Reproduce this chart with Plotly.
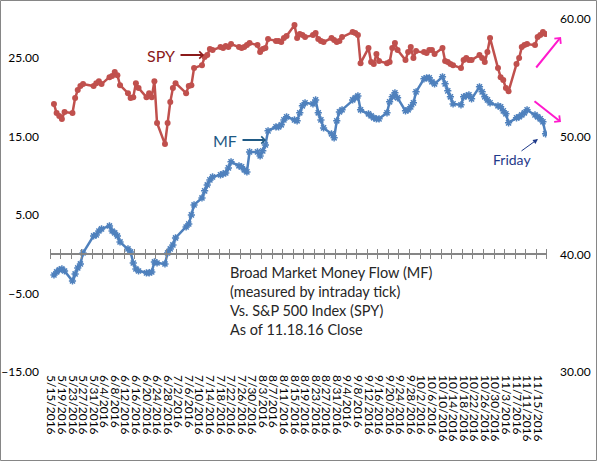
import plotly.graph_objects as go

# trading days shown on the chart
dates = [
    "2016-05-16", "2016-05-17", "2016-05-18", "2016-05-19", "2016-05-20",
    "2016-05-23", "2016-05-24", "2016-05-25", "2016-05-26", "2016-05-27",
    "2016-05-31", "2016-06-01", "2016-06-02", "2016-06-03",
    "2016-06-06", "2016-06-07", "2016-06-08", "2016-06-09", "2016-06-10",
    "2016-06-13", "2016-06-14", "2016-06-15", "2016-06-16", "2016-06-17",
    "2016-06-20", "2016-06-21", "2016-06-22", "2016-06-23", "2016-06-24",
    "2016-06-27", "2016-06-28", "2016-06-29", "2016-06-30", "2016-07-01",
    "2016-07-05", "2016-07-06", "2016-07-07", "2016-07-08",
    "2016-07-11", "2016-07-12", "2016-07-13", "2016-07-14", "2016-07-15",
    "2016-07-18", "2016-07-19", "2016-07-20", "2016-07-21", "2016-07-22",
    "2016-07-25", "2016-07-26", "2016-07-27", "2016-07-28", "2016-07-29",
    "2016-08-01", "2016-08-02", "2016-08-03", "2016-08-04", "2016-08-05",
    "2016-08-08", "2016-08-09", "2016-08-10", "2016-08-11", "2016-08-12",
    "2016-08-15", "2016-08-16", "2016-08-17", "2016-08-18", "2016-08-19",
    "2016-08-22", "2016-08-23", "2016-08-24", "2016-08-25", "2016-08-26",
    "2016-08-29", "2016-08-30", "2016-08-31", "2016-09-01", "2016-09-02",
    "2016-09-06", "2016-09-07", "2016-09-08", "2016-09-09",
    "2016-09-12", "2016-09-13", "2016-09-14", "2016-09-15", "2016-09-16",
    "2016-09-19", "2016-09-20", "2016-09-21", "2016-09-22", "2016-09-23",
    "2016-09-26", "2016-09-27", "2016-09-28", "2016-09-29", "2016-09-30",
    "2016-10-03", "2016-10-04", "2016-10-05", "2016-10-06", "2016-10-07",
    "2016-10-10", "2016-10-11", "2016-10-12", "2016-10-13", "2016-10-14",
    "2016-10-17", "2016-10-18", "2016-10-19", "2016-10-20", "2016-10-21",
    "2016-10-24", "2016-10-25", "2016-10-26", "2016-10-27", "2016-10-28",
    "2016-10-31", "2016-11-01", "2016-11-02", "2016-11-03", "2016-11-04",
    "2016-11-07", "2016-11-08", "2016-11-09", "2016-11-10", "2016-11-11",
    "2016-11-14", "2016-11-15", "2016-11-16", "2016-11-17", "2016-11-18",
]

# broad market money flow (left axis)
mf = [
    -2.63, -2.24, -1.99, -1.86, -2.12,
    -3.39, -2.50, -1.73, -1.22, 0.18,
    2.35, 2.47, 2.98, 3.24,
    3.62, 2.98, 2.73, 2.35, 1.58,
    0.69, 0.31, -1.10, -1.86, -2.12,
    -2.37, -2.37, -2.24, -0.97, -1.10,
    -1.22, 0.18, 0.69, 1.20, 2.09,
    3.49, 3.88, 5.03, 6.30,
    7.19, 8.09, 8.85, 9.49, 9.87,
    10.13, 10.26, 10.38, 11.02, 11.79,
    11.28, 11.15, 10.77, 10.51, 13.06,
    13.06, 12.55, 13.19, 13.95, 15.74,
    16.25, 16.25, 16.51, 17.14, 17.53,
    17.14, 17.02, 18.04, 18.93, 19.31,
    19.18, 19.69, 18.04, 17.14, 16.12,
    15.36, 14.85, 17.02, 18.16, 18.42,
    19.69, 19.95, 20.20, 18.42,
    17.91, 17.65, 17.40, 17.27, 17.27,
    18.04, 19.44, 20.08, 20.59, 19.95,
    18.29, 18.42, 18.80, 19.31, 20.71,
    22.37, 22.50, 22.50, 21.99, 21.73,
    22.63, 21.73, 20.84, 20.08, 19.18,
    19.06, 20.08, 20.20, 20.33, 19.82,
    21.35, 20.71, 20.08, 19.69, 19.31,
    18.93, 18.80, 18.29, 17.91, 16.76,
    17.40, 17.53, 17.78, 18.04, 18.42,
    17.78, 17.53, 17.27, 16.89, 15.36,
]

# S&P 500 index (right axis)
spy = [
    52.77, 52.01, 51.75, 51.50, 52.09,
    52.01, 53.28, 53.96, 54.30, 54.47,
    54.30, 54.55, 54.72, 54.47,
    55.06, 55.15, 55.49, 55.23, 54.38,
    53.70, 53.28, 53.36, 54.55, 54.13,
    53.36, 53.70, 53.36, 54.72, 51.16,
    49.37, 51.16, 52.94, 54.13, 54.55,
    53.70, 54.30, 54.38, 55.83,
    56.08, 56.76, 56.93, 57.44, 57.36,
    57.61, 57.53, 57.70, 57.61, 57.87,
    57.61, 57.53, 57.61, 57.78, 57.95,
    57.78, 57.19, 57.44, 57.53, 58.29,
    58.12, 58.12, 58.04, 58.38, 58.55,
    59.48, 58.38, 58.72, 58.63, 58.46,
    58.63, 58.80, 58.29, 58.12, 58.04,
    58.38, 58.21, 58.04, 58.12, 58.46,
    58.89, 58.80, 58.63, 56.25,
    57.53, 56.34, 56.17, 57.02, 56.42,
    56.25, 56.34, 57.53, 57.95, 57.36,
    56.51, 57.19, 57.61, 56.68, 57.27,
    57.19, 57.10, 57.36, 57.36, 57.02,
    57.53, 56.42, 56.34, 56.17, 56.08,
    55.83, 56.51, 56.68, 56.51, 56.51,
    56.93, 56.68, 56.34, 57.19, 58.38,
    55.83, 55.06, 54.81, 54.13, 53.87,
    56.17, 56.68, 57.61, 57.78, 57.87,
    57.78, 58.46, 58.63, 58.89, 58.72,
]

left_ticks = [-15, -5, 5, 15, 25]
right_ticks = [30, 40, 50, 60]

W, H = 597, 461
L, R, T, B = 50, 50, 19, 89
FONT = "Lato"


def px(x):
    return (x - L) / (W - L - R)


def py(y):
    return (H - B - y) / (H - T - B)


x_range = ["2016-05-14 12:00", "2016-11-18 13:00"]
DAY = 86400000
zero_pos = 15 / 45  # where 0 sits on the left axis

fig = go.Figure()
fig.add_trace(go.Scatter(
    x=dates, y=mf, mode="lines+markers", name="MF",
    line=dict(color="#4F81BD", width=2.5),
    marker=dict(symbol="asterisk-open", size=6,
                line=dict(color="#4F81BD", width=1.5)),
    xaxis="x", yaxis="y"))
fig.add_trace(go.Scatter(
    x=dates, y=spy, mode="lines+markers", name="SPY",
    line=dict(color="#C0504D", width=2.5),
    marker=dict(symbol="circle", size=6, color="#C0504D"),
    xaxis="x", yaxis="y2"))
# empty trace for the flat subplot that carries the zero-line tick marks
fig.add_trace(go.Scatter(x=[dates[0]], y=[None], xaxis="x2", yaxis="y3",
                         showlegend=False, hoverinfo="skip"))

fig.update_layout(
    width=W, height=H,
    margin=dict(l=L, r=R, t=T, b=B, autoexpand=False),
    paper_bgcolor="white", plot_bgcolor="rgba(0,0,0,0)",
    showlegend=False,
    font=dict(family=FONT, color="black"),
    xaxis=dict(type="date", range=x_range, tick0="2016-05-15", dtick=4 * DAY,
               tickformat="%-m/%-d/%Y", tickangle=90, ticks="",
               showline=False, showgrid=False, zeroline=False,
               tickfont=dict(size=12), ticklabelstandoff=2,
               automargin=False),
    # zero line with tick marks crossing it
    xaxis2=dict(type="date", range=x_range, anchor="y3",
                showline=True, linecolor="#868686", linewidth=1,
                mirror="ticks", ticks="outside", ticklen=4,
                tickcolor="#868686", tickwidth=1,
                tick0="2016-05-14 12:00", dtick=4 * DAY,
                showticklabels=False, showgrid=False, zeroline=False,
                automargin=False),
    yaxis3=dict(domain=[zero_pos, zero_pos + 0.0005], anchor="x2",
                showticklabels=False, showgrid=False, zeroline=False,
                showline=False, ticks="", automargin=False),
    yaxis=dict(range=[-15, 30], tickvals=left_ticks, tickformat=".2f",
               showgrid=False, zeroline=False, showline=False, ticks="",
               tickfont=dict(size=12), ticklabelstandoff=10,
               automargin=False),
    yaxis2=dict(range=[30, 60], tickvals=right_ticks, tickformat=".2f",
                overlaying="y", side="right", showgrid=False, zeroline=False,
                showline=False, ticks="", tickfont=dict(size=12),
                ticklabelstandoff=12, automargin=False),
)

# chart border
fig.add_shape(type="rect", xref="paper", yref="paper",
              x0=px(0.5), x1=px(W - 0.5), y0=py(H - 0.5), y1=py(0.5),
              line=dict(color="#868686", width=1))

notes = [
    dict(x=px(228), y=py(262), xanchor="left", yanchor="top", align="left",
         text="Broad Market Money Flow (MF)<br>(measured by intraday tick)"
              "<br>Vs. S&P 500 Index (SPY)<br>As of 11.18.16 Close",
         font=dict(size=14.5, color="#262626")),
    dict(x=px(177), y=py(55), xanchor="right", yanchor="middle", text="SPY",
         font=dict(size=16, color="#8B1A1A")),
    dict(x=px(239), y=py(140), xanchor="right", yanchor="middle", text="MF",
         font=dict(size=16, color="#1F5A85")),
    dict(x=px(512), y=py(159), xanchor="center", yanchor="middle",
         text="Friday", font=dict(size=14, color="#1F3A8A")),
]
for n in notes:
    fig.add_annotation(xref="paper", yref="paper", showarrow=False, **n)

arrows = [
    dict(x=px(204), y=py(55), ax=-25, ay=0, arrowcolor="#8B1A1A",
         arrowwidth=2, arrowhead=4, arrowsize=0.7),
    dict(x=px(266), y=py(140), ax=-25, ay=0, arrowcolor="#1F5A85",
         arrowwidth=2, arrowhead=4, arrowsize=0.7),
    dict(x=px(561), y=py(37), ax=-26, ay=32, arrowcolor="#FF1ACD",
         arrowwidth=2, arrowhead=4, arrowsize=0.8),
    dict(x=px(561), y=py(122), ax=-28, ay=-22, arrowcolor="#FF1ACD",
         arrowwidth=2, arrowhead=4, arrowsize=0.8),
    dict(x=px(538), y=py(139), ax=-18, ay=13, arrowcolor="#1F3A8A",
         arrowwidth=1, arrowhead=2, arrowsize=1),
]
for a in arrows:
    fig.add_annotation(xref="paper", yref="paper", text="", showarrow=True, **a)

# page body has a default 8px margin; drop it so the figure fills the window
fig.write_html("out.html", config={"displayModeBar": False},
               post_script="document.body.style.margin='0';")
